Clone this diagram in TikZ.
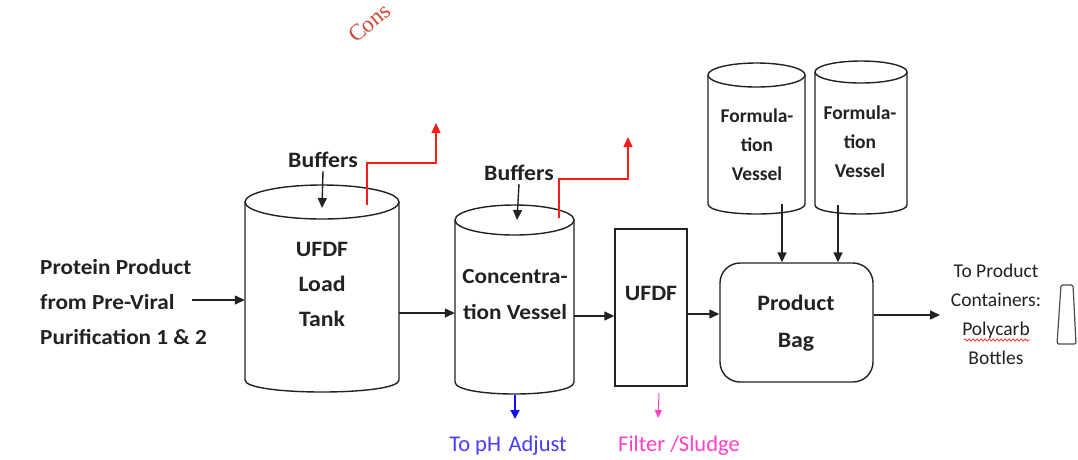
\documentclass[tikz,border=0pt]{standalone}
\usepackage{fontspec}
\setmainfont{Carlito}
\newfontfamily\widebf{Carlito}[FakeStretch=1.08, UprightFont=*-Bold]
\newfontfamily\wmfont{Liberation Serif}
\usetikzlibrary{arrows.meta,decorations.pathmorphing}
\definecolor{wmred}{HTML}{D04A35}
\definecolor{flowred}{HTML}{FF1A1A}
\definecolor{flowblue}{HTML}{1010FF}
\definecolor{txtblue}{HTML}{4A3CFF}
\definecolor{flowpink}{HTML}{FF40C8}
\definecolor{inkgray}{HTML}{222222}
\newcommand\cylout[6]{%
  \draw[ln] (#1,#2) ellipse [x radius=#4pt, y radius=#5pt];
  \draw[ln] (#1-#4,#2) -- (#1-#4,#3) .. controls (#1-#4,#3+4/3*#6) and (#1+#4,#3+4/3*#6) .. (#1+#4,#3) -- (#1+#4,#2);
}
\begin{document}
\begin{tikzpicture}[x=1pt,y=-1pt,
  lbl/.style={font=\widebf\fontsize{22}{35}\selectfont, align=center, inner sep=0pt, text=inkgray},
  body/.style={draw=none, inner sep=0pt},
  ln/.style={line width=1.4pt, draw=inkgray},
  tip/.style={-{Triangle[length=10pt,width=9pt]}},
  arr/.style={ln, tip},
  redarr/.style={line width=1.4pt, draw=flowred, tip},
]
\useasboundingbox (0,0) rectangle (1078,459);
\fill[white] (0,0) rectangle (1078,459);

% watermark
\node[anchor=base west, rotate=40, inner sep=0pt, text=wmred, font=\wmfont\fontsize{23}{26}\selectfont] (wm) at (356,44) {Cons};

% left input text
\node[lbl, anchor=west, align=left, font=\widebf\fontsize{21.5}{35}\selectfont] (prot) at (40,302) {Protein Product\\from Pre-Viral\\Purification 1 \& 2};
\coordinate (pstart) at (192,300);

% UFDF load tank
\cylout{322}{202}{380}{77}{17}{12}
\node[body, minimum width=154pt, minimum height=178pt] (tank) at (322,291) {};
\node[lbl] (tanktxt) at (322,284) {UFDF\\Load\\Tank};
\node[lbl] (buf1) at (323,160) {Buffers};
\coordinate (tanktop) at (322,208);
\coordinate (red1s) at (367,205);
\coordinate (red1e) at (436,123);

% concentration vessel
\cylout{514.5}{220}{382}{59.5}{15}{12}
\node[body, minimum width=119pt, minimum height=162pt] (conc) at (514.5,301) {};
\node[lbl, font=\widebf\fontsize{21.5}{36}\selectfont] (conctxt) at (515,295) {Concentra-\\tion Vessel};
\node[lbl] (buf2) at (519,173) {Buffers};
\coordinate (conctop) at (517,220);
\coordinate (red2s) at (559,218);
\coordinate (red2e) at (628,137);
\coordinate (concbot) at (515,395);
\node[inner sep=0pt, text=txtblue, font=\fontsize{22.5}{26}\selectfont] (ph) at (508,446) {To pH\,\,Adjust};

% UFDF filter
\node[draw, ln, minimum width=72pt, minimum height=157pt, inner sep=0pt] (ufdf) at (651,307.5) {};
\node[lbl] (ufdftxt) at (651,293) {UFDF};
\coordinate (ufdfbot) at (659,393);
\node[inner sep=0pt, text=flowpink, font=\fontsize{22.5}{26}\selectfont] (sludge) at (679,446) {Filter /Sludge};

% formulation vessels
\cylout{756.5}{75}{204}{48.5}{12}{10}
\node[body, minimum width=97pt, minimum height=129pt] (form1) at (756.5,139.5) {};
\node[lbl, font=\bfseries\fontsize{19.5}{29}\selectfont] (form1txt) at (757,144.5) {Formula-\\tion\\Vessel};
\cylout{861}{72}{205}{46}{11}{9}
\node[body, minimum width=92pt, minimum height=133pt] (form2) at (861,138.5) {};
\node[lbl, font=\bfseries\fontsize{19.5}{29}\selectfont] (form2txt) at (860,141.5) {Formula-\\tion\\Vessel};

% product bag
\node[draw, ln, rounded corners=20pt, minimum width=153pt, minimum height=119pt, inner sep=0pt] (bag) at (796.5,322.5) {};
\node[lbl, font=\widebf\fontsize{22}{37}\selectfont] (bagtxt) at (796,323.5) {Product\\Bag};

% output
\coordinate (outend) at (940,315);
\node[inner sep=0pt, align=center, text=inkgray, font=\fontsize{19.5}{29}\selectfont] (outtxt) at (996,314) {To Product\\Containers:\\Polycarb\\Bottles};
\draw[flowred, line width=0.7pt, decorate, decoration={snake, amplitude=1.1pt, segment length=4pt}] (964,340) -- (1030,340);
\draw[line width=1.2pt, draw=black!70, rounded corners=1.5pt] (1057,344) -- (1061,285) -- (1073,285) -- (1076,344) -- cycle;

% connectors
\draw[arr] (pstart) -- (tank.west |- pstart);
\draw[arr] (tank.east |- 0,313) -- (conc.west |- 0,313);
\draw[arr] (conc.east |- 0,316) -- (ufdf.west |- 0,316);
\draw[arr] (ufdf.east |- 0,314) -- (bag.west |- 0,314);
\draw[arr] (bag.east |- outend) -- (outend);
\draw[arr] (buf1.south) ++(0,3) -- (tanktop);
\draw[arr] (buf2.south) ++(0,3) -- (conctop);
\draw[arr] (782,204) -- (bag.north -| 782,0);
\draw[arr] (838,205) -- (bag.north -| 838,0);
\draw[redarr] (red1s) -- (red1s |- 0,163) -- (red1e |- 0,163) -- (red1e);
\draw[redarr] (red2s) -- (red2s |- 0,179) -- (red2e |- 0,179) -- (red2e);
\draw[line width=1.8pt, draw=flowblue, -{Triangle[length=9pt,width=9pt]}] (concbot) -- (515,419);
\draw[line width=1pt, draw=flowpink, -{Triangle[length=8pt,width=7pt]}] (ufdfbot) -- (658,418);
\end{tikzpicture}
\end{document}
